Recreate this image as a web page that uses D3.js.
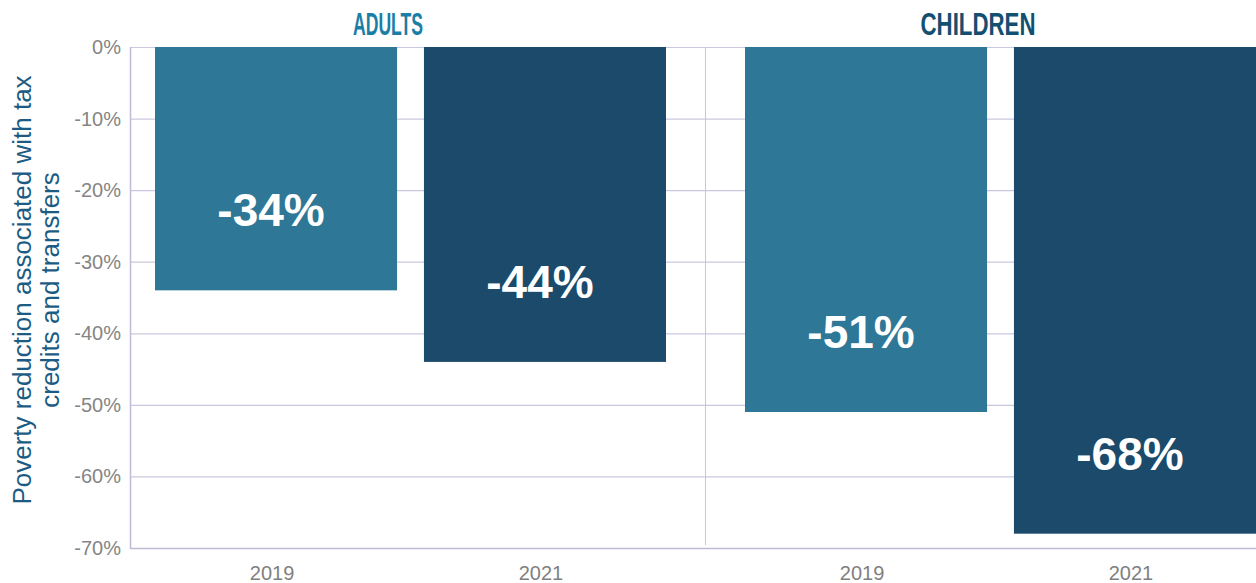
<!DOCTYPE html>
<html>
<head>
<meta charset="utf-8">
<script src="https://cdn.jsdelivr.net/npm/d3@7"></script>
<style>
  body { margin: 0; background: #fff; }
  svg { display: block; }
</style>
</head>
<body>
<div id="chart"></div>
<script>
// data
var groups = ["ADULTS", "CHILDREN"];
var years = ["2019", "2021"];
var adultsValues = [-34, -44];
var childrenValues = [-51, -68];
var yTicks = [0, -10, -20, -30, -40, -50, -60, -70];

var values = { "ADULTS": adultsValues, "CHILDREN": childrenValues };
var data = [];
groups.forEach(function(g) {
    years.forEach(function(yr, i) {
        data.push({ group: g, year: yr, value: values[g][i] });
    });
});

var width = 1256, height = 583;
var plotLeft = 130, plotTop = 47, plotBottom = 548;

var svg = d3.select("#chart").append("svg")
    .attr("width", width)
    .attr("height", height);

var y = d3.scaleLinear().domain([-70, 0]).range([plotBottom, plotTop]);
var x0 = d3.scaleBand().domain(groups).range([115, 1295]);
var x1 = d3.scaleBand().domain(years).range([40, 551]).paddingInner(0.1).paddingOuter(0);
var colors = d3.scaleOrdinal().domain(years).range(["#2e7796", "#1b4a6a"]);
var titleColors = d3.scaleOrdinal().domain(groups).range(["#1b7ea6", "#124f70"]);

// gridlines
svg.append("g")
    .selectAll("line")
    .data(yTicks)
    .enter()
    .append("line")
        .attr("x1", plotLeft)
        .attr("x2", width)
        .attr("y1", function(d) { return y(d) + 0.5; })
        .attr("y2", function(d) { return y(d) + 0.5; })
        .attr("stroke", "#cbc7de")
        .attr("stroke-width", 1.2);

// divider between panels
svg.append("line")
    .attr("x1", x0("CHILDREN") + 0.5)
    .attr("x2", x0("CHILDREN") + 0.5)
    .attr("y1", plotTop)
    .attr("y2", plotBottom - 3)
    .attr("stroke", "#c9c9c9")
    .attr("stroke-width", 1);

// bars
var bars = svg.append("g")
    .selectAll("g")
    .data(data)
    .enter()
    .append("g")
        .attr("transform", function(d) { return "translate(" + x0(d.group) + ",0)"; });

bars.append("rect")
    .attr("x", function(d) { return x1(d.year); })
    .attr("y", y(0))
    .attr("width", x1.bandwidth())
    .attr("height", function(d) { return y(d.value) - y(0); })
    .attr("fill", function(d) { return colors(d.year); });

bars.append("text")
    .attr("x", function(d) { return x1(d.year) + x1.bandwidth() / 2 - 5; })
    .attr("y", function(d) { return y(d.value) - 64; })
    .attr("text-anchor", "middle")
    .attr("font-family", "Liberation Sans, Arial, sans-serif")
    .attr("font-weight", "bold")
    .attr("font-size", 46)
    .attr("fill", "#fff")
    .text(function(d) { return d.value + "%"; });

// x labels
bars.append("text")
    .attr("x", function(d) { return x1(d.year) + x1.bandwidth() / 2 - 4; })
    .attr("y", 580)
    .attr("text-anchor", "middle")
    .attr("font-family", "Liberation Sans Narrow, sans-serif")
    .attr("font-size", 20)
    .attr("fill", "#7f7f7f")
    .text(function(d) { return d.year; });

// group titles
svg.append("g")
    .selectAll("text")
    .data(groups)
    .enter()
    .append("text")
        .attr("x", function(d) { return x0(d) + x0.bandwidth() / 2 - 22; })
        .attr("y", 35)
        .attr("text-anchor", "middle")
        .attr("font-family", "Liberation Sans Narrow, sans-serif")
        .attr("font-weight", "bold")
        .attr("font-size", 32)
        .attr("textLength", function(d) { return d === "ADULTS" ? 70 : 115; })
        .attr("lengthAdjust", "spacingAndGlyphs")
        .attr("fill", function(d) { return titleColors(d); })
        .text(function(d) { return d; });

// axes lines
svg.append("line")
    .attr("x1", plotLeft + 0.5).attr("x2", plotLeft + 0.5)
    .attr("y1", plotTop).attr("y2", plotBottom + 1)
    .attr("stroke", "#bfbad8").attr("stroke-width", 1.5);
svg.append("line")
    .attr("x1", plotLeft).attr("x2", width)
    .attr("y1", plotBottom + 0.5).attr("y2", plotBottom + 0.5)
    .attr("stroke", "#bfbad8").attr("stroke-width", 1.5);

// y tick labels
svg.append("g")
    .selectAll("text")
    .data(yTicks)
    .enter()
    .append("text")
        .attr("x", 121)
        .attr("y", function(d) { return y(d) + 7; })
        .attr("text-anchor", "end")
        .attr("font-family", "Liberation Sans Narrow, sans-serif")
        .attr("font-size", 20)
        .attr("fill", "#858585")
        .text(function(d) { return d + "%"; });

// y axis title
var yt = svg.append("text")
    .attr("transform", "translate(31,290) rotate(-90)")
    .attr("text-anchor", "middle")
    .attr("font-family", "Liberation Sans, Arial, sans-serif")
    .attr("font-size", 26)
    .attr("fill", "#1c5c84");
yt.append("tspan").attr("x", 0).attr("y", 0).text("Poverty reduction associated with tax");
yt.append("tspan").attr("x", 0).attr("y", 28).text("credits and transfers");
</script>
</body>
</html>
